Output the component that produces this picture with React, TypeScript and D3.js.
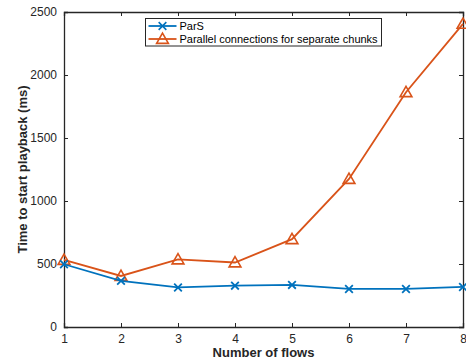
import React, { useEffect, useRef } from 'react';
import * as d3 from 'd3';

const flows = [1, 2, 3, 4, 5, 6, 7, 8];
const parsValues = [498, 366, 314, 328, 334, 302, 302, 318];
const parallelValues = [532, 405, 536, 512, 697, 1175, 1863, 2406];
const yTicks = [0, 500, 1000, 1500, 2000, 2500];
const seriesNames = ['ParS', 'Parallel connections for separate chunks'];

const App = () => {
  const ref = useRef<SVGSVGElement | null>(null);

  useEffect(() => {
    const width = 466;
    const height = 360;
    const margin = { top: 12, right: 3, bottom: 33, left: 64 };
    const axisColor = '#262626';
    const font = 'Liberation Sans, Arial, Helvetica, sans-serif';

    const svg = d3.select(ref.current);
    svg.selectAll('*').remove();

    const innerW = width - margin.left - margin.right;
    const innerH = height - margin.top - margin.bottom;

    const g = svg.append('g').attr('transform', `translate(${margin.left},${margin.top})`);

    const x = d3.scaleLinear().domain([1, 8]).range([0, innerW]);
    const y = d3.scaleLinear().domain([0, 2500]).range([innerH, 0]);

    // Box with inward ticks on all four sides
    const bottom = g.append('g')
      .attr('transform', `translate(0,${innerH})`)
      .call(d3.axisBottom(x).tickValues(flows).tickSize(-4).tickPadding(7).tickFormat(d3.format('d')));
    const top = g.append('g')
      .call(d3.axisTop(x).tickValues(flows).tickSize(-4).tickFormat(() => ''));
    const left = g.append('g')
      .call(d3.axisLeft(y).tickValues(yTicks).tickSize(-4).tickPadding(7).tickFormat(d3.format('d')));
    const right = g.append('g')
      .attr('transform', `translate(${innerW},0)`)
      .call(d3.axisRight(y).tickValues(yTicks).tickSize(-4).tickFormat(() => ''));

    [bottom, top, left, right].forEach(ax => {
      ax.select('.domain').attr('stroke', axisColor).attr('stroke-width', 1.3);
      ax.selectAll('.tick line').attr('stroke', axisColor).attr('stroke-width', 1);
      ax.selectAll('text')
        .attr('fill', axisColor)
        .style('font-family', font)
        .style('font-size', '12px');
    });

    const line = d3.line<number>()
      .x((_, i) => x(flows[i]))
      .y(d => y(d));

    const colors = ['#0072BD', '#D95319'];

    // Parallel series
    g.append('path')
      .datum(parallelValues)
      .attr('fill', 'none')
      .attr('stroke', colors[1])
      .attr('stroke-width', 1.8)
      .attr('d', line);

    const tri = d3.symbol().type(d3.symbolTriangle).size(60);
    g.selectAll('.tri')
      .data(parallelValues)
      .enter()
      .append('path')
      .attr('class', 'tri')
      .attr('d', tri)
      .attr('transform', (d, i) => `translate(${x(flows[i])},${y(d) + 1})`)
      .attr('fill', 'none')
      .attr('stroke', colors[1])
      .attr('stroke-width', 1.6);

    // ParS series
    g.append('path')
      .datum(parsValues)
      .attr('fill', 'none')
      .attr('stroke', colors[0])
      .attr('stroke-width', 1.8)
      .attr('d', line);

    const cross = d3.symbol().type(d3.symbolX).size(40);
    g.selectAll('.cross')
      .data(parsValues)
      .enter()
      .append('path')
      .attr('class', 'cross')
      .attr('d', cross)
      .attr('transform', (d, i) => `translate(${x(flows[i])},${y(d)})`)
      .attr('fill', 'none')
      .attr('stroke', colors[0])
      .attr('stroke-width', 1.8);

    // Axis titles
    svg.append('text')
      .attr('x', margin.left + innerW / 2)
      .attr('y', 357)
      .attr('text-anchor', 'middle')
      .attr('fill', axisColor)
      .style('font-family', font)
      .style('font-size', '13px')
      .style('font-weight', 'bold')
      .text('Number of flows');

    svg.append('text')
      .attr('transform', `translate(27,${margin.top + innerH / 2}) rotate(-90)`)
      .attr('text-anchor', 'middle')
      .attr('fill', axisColor)
      .style('font-family', font)
      .style('font-size', '13px')
      .style('font-weight', 'bold')
      .text('Time to start playback (ms)');

    // Legend
    const legend = svg.append('g').attr('transform', 'translate(145.5,18.5)');
    legend.append('rect')
      .attr('width', 236)
      .attr('height', 27.5)
      .attr('fill', 'white')
      .attr('stroke', axisColor)
      .attr('stroke-width', 1);

    seriesNames.forEach((name, i) => {
      const cy = 7.5 + i * 13;
      legend.append('line')
        .attr('x1', 3).attr('x2', 31)
        .attr('y1', cy).attr('y2', cy)
        .attr('stroke', colors[i])
        .attr('stroke-width', 1.8);
      legend.append('path')
        .attr('d', i === 0 ? cross : tri)
        .attr('transform', `translate(17,${cy + (i === 1 ? 1 : 0)})`)
        .attr('fill', 'none')
        .attr('stroke', colors[i])
        .attr('stroke-width', 1.6);
      legend.append('text')
        .attr('x', 34)
        .attr('y', cy)
        .attr('dy', '0.35em')
        .attr('fill', '#000')
        .style('font-family', font)
        .style('font-size', '11px')
        .text(name);
    });
  }, []);

  return (
    <svg
      ref={ref}
      width={466}
      height={360}
      style={{ position: 'absolute', left: 0, top: 0, background: 'white' }}
    />
  );
};

export default App;
